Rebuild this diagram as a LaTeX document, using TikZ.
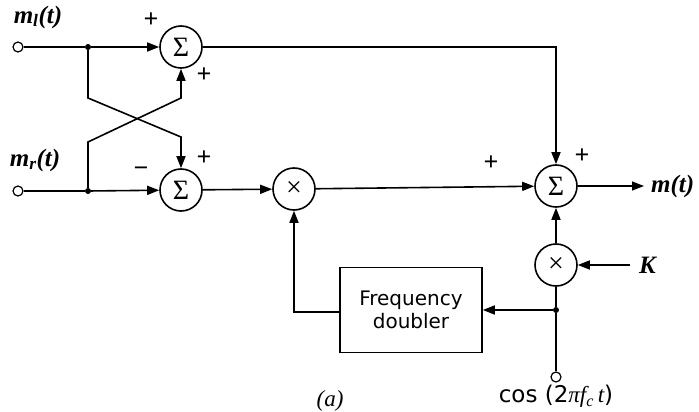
\documentclass[tikz,border=0pt]{standalone}
\usepackage{fontspec}
\setmainfont{Liberation Serif}
\newfontfamily\boxfont{DejaVu Sans}
\usetikzlibrary{arrows.meta}
\tikzset{
  wire/.style={line width=1.6pt},
  arr/.style={wire,-{Triangle[length=12pt,width=9pt]}},
  opnode/.style={circle,draw,line width=1.6pt,minimum size=42pt,inner sep=0pt,font=\fontsize{28}{32}\selectfont},
  port/.style={circle,draw,line width=1.2pt,minimum size=10pt,inner sep=0pt,fill=white},
  dot/.style={circle,fill,minimum size=6pt,inner sep=0pt},
  sign/.style={font=\fontsize{26}{30}\selectfont\bfseries,inner sep=0pt},
  lbl/.style={font=\fontsize{25}{29}\selectfont\bfseries\itshape,inner sep=0pt},
  blockbox/.style={draw,line width=1.6pt,minimum width=142pt,minimum height=85pt,align=center,font=\fontsize{20}{23}\selectfont\boxfont}
}
\begin{document}
\begin{tikzpicture}[x=1pt,y=-1pt]
\useasboundingbox (0,0) rectangle (699,412);
% operators
\node[opnode] (s1) at (181,47) {Σ};
\node[opnode] (s2) at (181,190) {Σ};
\node[opnode] (m1) at (294,189) {×};
\node[opnode] (s3) at (556,186) {Σ};
\node[opnode] (m2) at (556,265) {×};
\node[blockbox] (fd) at (411,310) {Frequency\\doubler};
% ports
\node[port] (in1) at (18,47) {};
\node[port] (in2) at (18,191) {};
\node[port] (in3) at (556,377) {};
\node[dot] (d1) at (88,47) {};
\node[dot] (d2) at (88,191) {};
\node[dot] (d3) at (556,310) {};
\coordinate (c1) at (88,98);
\coordinate (c2) at (181,137);
\coordinate (c3) at (88,142);
\coordinate (c4) at (181,98);
\coordinate (top) at (556,47);
\coordinate (out) at (644,186);
\coordinate (kin) at (630,265);
\coordinate (bl) at (294,312);
% wires
\draw[wire] (in1) -- (d1);
\draw[arr] (d1) -- (s1);
\draw[wire] (in2) -- (d2);
\draw[arr] (d2) -- (s2);
\draw[arr] (d1) -- (c1) -- (c2) -- (s2);
\draw[arr] (d2) -- (c3) -- (c4) -- (s1);
\draw[arr] (s1) -- (top) -- (s3);
\draw[arr] (s2) -- (m1);
\draw[arr] (m1) -- (s3);
\draw[arr] (s3) -- (out);
\draw[arr] (m2) -- (s3);
\draw[arr] (kin) -- (m2);
\draw[wire] (m2) -- (d3) -- (in3);
\draw[arr] (d3) -- (fd.east |- d3);
\draw[arr] (fd.west |- bl) -- (bl) -- (m1);
% signs
\node[sign] at (151,20) {+};
\node[sign] at (204,75) {+};
\node[sign] at (204,158) {+};
\node[sign] at (141,172) {−};
\node[sign] at (491,163) {+};
\node[sign] at (582,156) {+};
% labels
\node[lbl] at (38,17) {m\textsubscript{l}(t)};
\node[lbl] at (35,160) {m\textsubscript{r}(t)};
\node[lbl,anchor=west] at (651,186) {m(t)};
\node[lbl,anchor=west] at (639,265) {K};
\node[inner sep=0pt,font=\fontsize{23}{27}\selectfont\boxfont] at (556,396) {cos (2{\rmfamily\itshape πf\textsubscript{c}\,t})};
\node[inner sep=0pt,font=\fontsize{23}{27}\selectfont\itshape] at (330,401) {(a)};
\end{tikzpicture}
\end{document}
